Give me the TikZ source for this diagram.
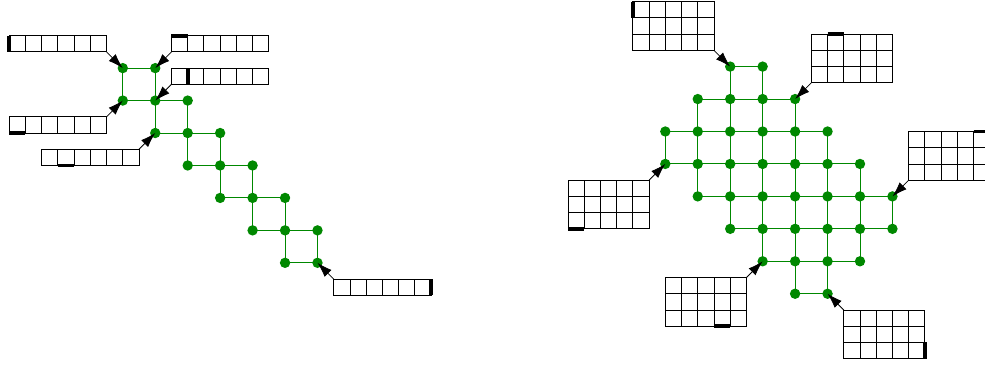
\documentclass[tikz,border=0pt]{standalone}
\usepackage{tikz}
\usetikzlibrary{arrows.meta,positioning}
\definecolor{qgreen}{RGB}{0,136,0}

\tikzset{
  qubit/.style={circle, fill=qgreen, inner sep=0pt, minimum size=0.32cm},
  link/.style={qgreen, line width=0.8pt},
  cellline/.style={black, line width=0.75pt},
  marker/.style={black, line width=3.4pt},
  pointer/.style={-{Latex[length=0.46cm,width=0.3cm]}, line width=0.7pt},
}

\begin{document}
\begin{tikzpicture}
  \useasboundingbox (0,0) rectangle (30.354,-11.310);

  % ---- left: chain of plaquettes ----
  \begin{scope}[shift={(3.784,-2.099)}, y=-1cm]
    % qubits
    \foreach \i/\j in {0/0,1/0,0/1,1/1,2/1,1/2,2/2,3/2,2/3,3/3,4/3,
                       3/4,4/4,5/4,4/5,5/5,6/5,5/6,6/6}{
      \node[qubit] (s-\i-\j) at (\i,\j) {};
    }
    % links, one square per step
    \foreach \k [evaluate=\k as \kk using int(\k+1)] in {0,...,5}{
      \draw[link] (s-\k-\k.center) -- (s-\kk-\k.center) -- (s-\kk-\kk.center)
                  -- (s-\k-\kk.center) -- cycle;
    }
    % cell strips (x/y of top left corner, columns, rows)
    \foreach \x/\y/\nc/\nr in {-3.5/-1/6/1, 1.5/-1/6/1, 1.5/0/6/1,
                               -3.5/1.5/6/1, -2.5/2.5/6/1, 6.5/6.5/6/1}{
      \foreach \c in {1,...,\nc}
        \foreach \r in {1,...,\nr}
          \draw[cellline] (\x+\c*0.5-0.5,\y+\r*0.5-0.5) rectangle ++(0.5,0.5);
    }
    % thick markers
    \draw[marker] (-3.5,-1) -- (-3.5,-0.5);
    \draw[marker] (1.5,-1) -- (2,-1);
    \draw[marker] (2,0) -- (2,0.5);
    \draw[marker] (-3.5,2) -- (-3,2);
    \draw[marker] (-2,3) -- (-1.5,3);
    \draw[marker] (9.5,6.5) -- (9.5,7);
    % strip corners
    \coordinate (sa) at (-0.5,-0.5);
    \coordinate (sb) at (1.5,-0.5);
    \coordinate (sc) at (1.5,0.5);
    \coordinate (sd) at (-0.5,1.5);
    \coordinate (se) at (0.5,2.5);
    \coordinate (sf) at (6.5,6.5);
    \draw[pointer] (sa) -- (s-0-0.center);
    \draw[pointer] (sb) -- (s-1-0.center);
    \draw[pointer] (sc) -- (s-1-1.center);
    \draw[pointer] (sd) -- (s-0-1.center);
    \draw[pointer] (se) -- (s-1-2.center);
    \draw[pointer] (sf) -- (s-6-6.center);
  \end{scope}

  % ---- right: diamond patch ----
  \begin{scope}[shift={(20.502,-2.052)}, y=-1cm]
    % qubits, row/first/last column
    \foreach \row/\a/\b in {0/2/3,1/1/4,2/0/5,3/0/6,4/1/7,5/2/7,6/3/6,7/4/5}{
      \foreach \col in {\a,...,\b}
        \node[qubit] (d-\col-\row) at (\col,\row) {};
    }
    % horizontal links
    \foreach \row/\a/\b [evaluate=\b as \bm using int(\b-1)] in
        {0/2/3,1/1/4,2/0/5,3/0/6,4/1/7,5/2/7,6/3/6,7/4/5}{
      \foreach \col [evaluate=\col as \cc using int(\col+1)] in {\a,...,\bm}
        \draw[link] (d-\col-\row.center) -- (d-\cc-\row.center);
    }
    % vertical links
    \foreach \row/\a/\b [evaluate=\row as \rr using int(\row+1)] in
        {0/2/3,1/1/4,2/0/5,3/1/6,4/2/7,5/3/6,6/4/5}{
      \foreach \col in {\a,...,\b}
        \draw[link] (d-\col-\row.center) -- (d-\col-\rr.center);
    }
    % cell blocks
    \foreach \x/\y in {-1/-2, 4.5/-1, 7.5/2, -3/3.5, 0/6.5, 5.5/7.5}{
      \foreach \c in {1,...,5}
        \foreach \r in {1,...,3}
          \draw[cellline] (\x+\c*0.5-0.5,\y+\r*0.5-0.5) rectangle ++(0.5,0.5);
    }
    % thick markers
    \draw[marker] (-1,-2) -- (-1,-1.5);
    \draw[marker] (5,-1) -- (5.5,-1);
    \draw[marker] (9.5,2) -- (10,2);
    \draw[marker] (-3,5) -- (-2.5,5);
    \draw[marker] (1.5,8) -- (2,8);
    \draw[marker] (8,8.5) -- (8,9);
    % block corners
    \coordinate (dg) at (1.5,-0.5);
    \coordinate (dh) at (4.5,0.5);
    \coordinate (di) at (7.5,3.5);
    \coordinate (dj) at (-0.5,3.5);
    \coordinate (dk) at (2.5,6.5);
    \coordinate (dl) at (5.5,7.5);
    \draw[pointer] (dg) -- (d-2-0.center);
    \draw[pointer] (dh) -- (d-4-1.center);
    \draw[pointer] (di) -- (d-7-4.center);
    \draw[pointer] (dj) -- (d-0-3.center);
    \draw[pointer] (dk) -- (d-3-6.center);
    \draw[pointer] (dl) -- (d-5-7.center);
  \end{scope}
\end{tikzpicture}
\end{document}
